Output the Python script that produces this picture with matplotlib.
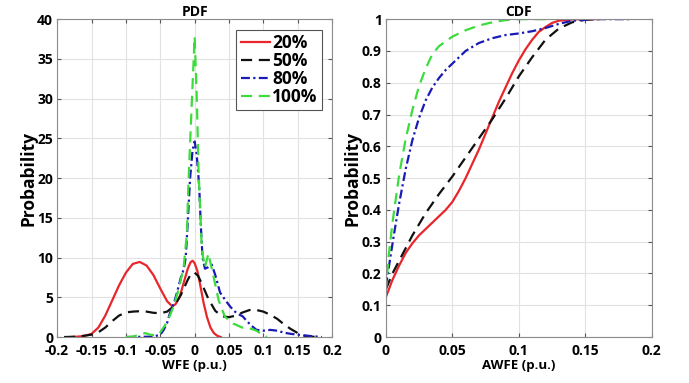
import matplotlib
matplotlib.use("Agg")
import matplotlib.pyplot as plt

plt.rcParams['font.family'] = ['Open Sans', 'DejaVu Sans']
plt.rcParams['font.weight'] = 'bold'

# ---- PDF data (WFE, p.u.) ----
red_pdf_x = [-0.18, -0.17, -0.16, -0.15, -0.14, -0.13, -0.12, -0.11, -0.10, -0.09, -0.08, -0.07,
             -0.06, -0.05, -0.04, -0.033, -0.028, -0.022, -0.016, -0.01, -0.006, -0.003, 0.0,
             0.004, 0.008, 0.013, 0.018, 0.023, 0.028, 0.033, 0.038]
red_pdf_y = [0, 0.05, 0.15, 0.4, 1.2, 2.7, 4.6, 6.5, 8.1, 9.2, 9.45, 9.0,
             7.8, 6.1, 4.5, 3.9, 4.1, 5.0, 6.8, 8.6, 9.4, 9.6, 9.3,
             8.3, 6.6, 4.3, 2.5, 1.2, 0.5, 0.15, 0]

black_pdf_x = [-0.19, -0.17, -0.15, -0.14, -0.13, -0.12, -0.11, -0.10, -0.09, -0.08, -0.07, -0.06,
               -0.05, -0.04, -0.03, -0.02, -0.01, -0.005, 0.0, 0.005, 0.01, 0.02, 0.03, 0.04, 0.05,
               0.06, 0.07, 0.08, 0.09, 0.10, 0.11, 0.12, 0.13, 0.14, 0.15, 0.16, 0.17, 0.18]
black_pdf_y = [0, 0.05, 0.3, 0.6, 1.2, 2.0, 2.7, 3.1, 3.2, 3.25, 3.2, 3.05,
               3.0, 3.2, 3.9, 5.3, 7.2, 8.0, 8.1, 7.7, 6.8, 4.8, 3.3, 2.6, 2.5,
               2.7, 3.1, 3.4, 3.4, 3.2, 2.8, 2.3, 1.6, 1.0, 0.5, 0.15, 0.05, 0]

blue_pdf_x = [-0.10, -0.06, -0.05, -0.045, -0.04, -0.036, -0.03, -0.026, -0.02, -0.016, -0.013,
              -0.01, -0.0066, -0.003, 0.0, 0.003, 0.0066, 0.009, 0.0115, 0.015, 0.02, 0.025,
              0.03, 0.037, 0.045, 0.052, 0.061, 0.07, 0.076, 0.083, 0.09, 0.10, 0.11, 0.12,
              0.13, 0.14, 0.15, 0.16, 0.17, 0.185]
blue_pdf_y = [0, 0.05, 0.3, 0.9, 1.8, 3.0, 4.3, 5.5, 7.5, 8.5, 10,
              14.5, 20, 23.5, 24.6, 23, 19, 14, 10, 8.6, 8.8, 9.1,
              7.8, 5.6, 4.6, 3.8, 3.0, 2.6, 2.0, 1.4, 0.9, 0.8, 0.9, 0.8,
              0.55, 0.4, 0.3, 0.2, 0.12, 0]

green_pdf_x = [-0.10, -0.09, -0.08, -0.072, -0.065, -0.055, -0.05, -0.043, -0.036, -0.031,
               -0.0235, -0.016, -0.0113, -0.009, -0.004, 0.0, 0.0032, 0.0055, 0.0105, 0.015,
               0.02, 0.0275, 0.035, 0.044, 0.056, 0.069, 0.08, 0.09, 0.10, 0.105]
green_pdf_y = [0, 0.05, 0.3, 0.5, 0.3, 0.2, 0.6, 1.5, 2.7, 3.8,
               5.9, 8.8, 13, 19.4, 29.8, 37.8, 29.8, 21.4, 10.9, 8.8,
               10.5, 7.6, 4.6, 2.55, 1.7, 1.2, 1.1, 0.8, 0.2, 0]

# ---- CDF data (AWFE, p.u.) ----
red_cdf_x = [0, 0.005, 0.01, 0.015, 0.02, 0.025, 0.03, 0.035, 0.04, 0.045, 0.05, 0.055, 0.06,
             0.065, 0.07, 0.075, 0.08, 0.085, 0.09, 0.095, 0.1, 0.105, 0.11, 0.115, 0.12, 0.125,
             0.13, 0.14, 0.15, 0.16]
red_cdf_y = [0.125, 0.18, 0.225, 0.265, 0.295, 0.32, 0.34, 0.36, 0.38, 0.40, 0.425, 0.46, 0.50,
             0.545, 0.59, 0.64, 0.69, 0.74, 0.785, 0.83, 0.87, 0.905, 0.935, 0.96, 0.975, 0.988,
             0.995, 0.999, 1.0, 1.0]

black_cdf_x = [0, 0.005, 0.01, 0.015, 0.02, 0.03, 0.04, 0.05, 0.06, 0.07, 0.08, 0.09, 0.1,
               0.11, 0.12, 0.13, 0.14, 0.15, 0.16]
black_cdf_y = [0.15, 0.2, 0.24, 0.28, 0.32, 0.39, 0.45, 0.505, 0.565, 0.625, 0.685, 0.75, 0.82,
               0.88, 0.935, 0.97, 0.99, 0.998, 1.0]

blue_cdf_x = [0, 0.003, 0.006, 0.01, 0.015, 0.02, 0.025, 0.03, 0.035, 0.04, 0.045, 0.05, 0.06,
              0.07, 0.08, 0.09, 0.1, 0.11, 0.12, 0.13, 0.14, 0.15, 0.16, 0.17, 0.185]
blue_cdf_y = [0.16, 0.24, 0.32, 0.42, 0.53, 0.62, 0.69, 0.745, 0.785, 0.815, 0.84, 0.86, 0.9,
              0.925, 0.94, 0.95, 0.955, 0.962, 0.972, 0.985, 0.995, 0.998, 1.0, 1.0, 1.0]

green_cdf_x = [0, 0.002, 0.005, 0.01, 0.015, 0.02, 0.025, 0.03, 0.035, 0.04, 0.05, 0.06, 0.07,
               0.08, 0.09, 0.1, 0.12]
green_cdf_y = [0.14, 0.25, 0.36, 0.51, 0.625, 0.715, 0.79, 0.845, 0.89, 0.915, 0.945, 0.965,
               0.98, 0.99, 0.997, 1.0, 1.0]

labels = ["20%", "50%", "80%", "100%"]
colors = ["#e8262b", "#111111", "#1a1ab4", "#3ddc3d"]
styles = ["-", (0, (5, 3)), (0, (4, 1.5, 1, 1.5)), (0, (5, 3))]

pdf_series = [(red_pdf_x, red_pdf_y), (black_pdf_x, black_pdf_y),
              (blue_pdf_x, blue_pdf_y), (green_pdf_x, green_pdf_y)]
cdf_series = [(red_cdf_x, red_cdf_y), (black_cdf_x, black_cdf_y),
              (blue_cdf_x, blue_cdf_y), (green_cdf_x, green_cdf_y)]

pdf_xticks = [-0.2, -0.15, -0.1, -0.05, 0, 0.05, 0.1, 0.15, 0.2]
pdf_xlabels = ["-0.2", "-0.15", "-0.1", "-0.05", "0", "0.05", "0.1", "0.15", "0.2"]
pdf_yticks = [0, 5, 10, 15, 20, 25, 30, 35, 40]
cdf_xticks = [0, 0.05, 0.1, 0.15, 0.2]
cdf_xlabels = ["0", "0.05", "0.1", "0.15", "0.2"]
cdf_yticks = [0, 0.1, 0.2, 0.3, 0.4, 0.5, 0.6, 0.7, 0.8, 0.9, 1.0]
cdf_ylabels = ["0", "0.1", "0.2", "0.3", "0.4", "0.5", "0.6", "0.7", "0.8", "0.9", "1"]

fig = plt.figure(figsize=(6.89, 3.83), dpi=100)
ax1 = fig.add_axes([0.083, 0.12, 0.399, 0.83])
ax2 = fig.add_axes([0.560, 0.12, 0.386, 0.83])


def style_axes(ax):
    ax.grid(True, color="#e2e2e2", linewidth=0.8)
    ax.set_axisbelow(True)
    for sp in ax.spines.values():
        sp.set_color("#8c8c8c")
        sp.set_linewidth(0.8)
    ax.tick_params(direction="in", length=3, color="#555555", labelsize=10,
                   top=True, right=True, pad=3)
    ax.tick_params(axis="x", pad=5)
    for lab in ax.get_xticklabels() + ax.get_yticklabels():
        lab.set_fontweight("bold")


for (x, y), c, ls, lab in zip(pdf_series, colors, styles, labels):
    ax1.plot(x, y, color=c, linestyle=ls, linewidth=1.6, label=lab)
ax1.set_xlim(-0.2, 0.2)
ax1.set_ylim(0, 40)
ax1.set_xticks(pdf_xticks)
ax1.set_xticklabels(pdf_xlabels)
ax1.set_yticks(pdf_yticks)
style_axes(ax1)
ax1.set_title("PDF", fontsize=10, fontweight="bold", pad=2)
ax1.set_xlabel("WFE (p.u.)", fontsize=9.5, fontweight="bold", labelpad=1)
ax1.set_ylabel("Probability", fontsize=12.5, fontweight="bold", labelpad=0)
leg = ax1.legend(loc="upper right", fontsize=12.5, handlelength=1.7, handletextpad=0.1,
                 borderpad=0.25, labelspacing=0.0, fancybox=False, framealpha=1,
                 borderaxespad=0.6)
leg.get_frame().set_edgecolor("#555555")
leg.get_frame().set_linewidth(0.8)

for (x, y), c, ls, lab in zip(cdf_series, colors, styles, labels):
    ax2.plot(x, y, color=c, linestyle=ls, linewidth=1.6, label=lab)
ax2.set_xlim(0, 0.2)
ax2.set_ylim(0, 1)
ax2.set_xticks(cdf_xticks)
ax2.set_xticklabels(cdf_xlabels)
ax2.set_yticks(cdf_yticks)
ax2.set_yticklabels(cdf_ylabels)
style_axes(ax2)
ax2.set_title("CDF", fontsize=10, fontweight="bold", pad=2)
ax2.set_xlabel("AWFE (p.u.)", fontsize=9.5, fontweight="bold", labelpad=1)
ax2.set_ylabel("Probability", fontsize=12.5, fontweight="bold", labelpad=0)

fig.savefig("out.png", dpi=100)
